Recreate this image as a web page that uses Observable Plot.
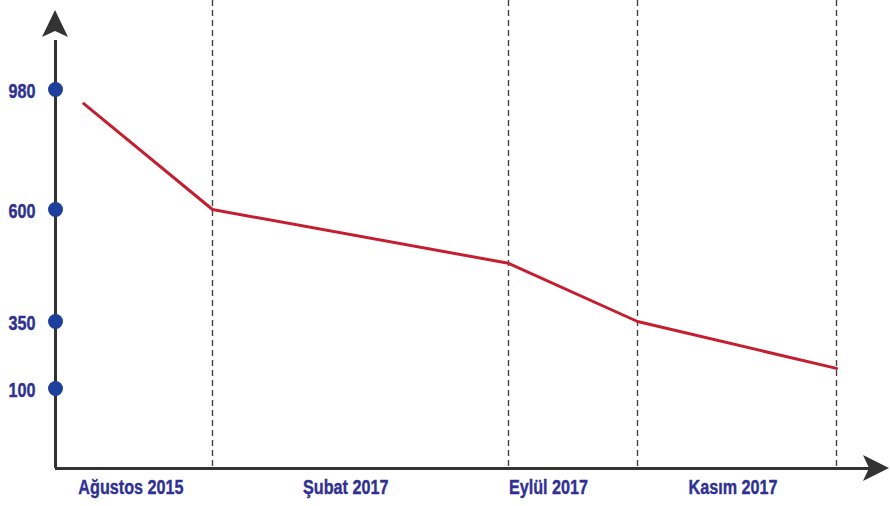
<!DOCTYPE html>
<html>
<head>
<meta charset="utf-8">
<script src="https://cdn.jsdelivr.net/npm/d3@7"></script>
<script src="https://cdn.jsdelivr.net/npm/@observablehq/plot@0.6"></script>
<style>
  html, body { margin: 0; padding: 0; background: #fff; }
  #chart svg { display: block; }
</style>
</head>
<body>
<div id="chart"></div>
<script>
// Categories (period labels) and their label positions along the x index
const periods = ["Ağustos 2015", "Şubat 2017", "Eylül 2017", "Kasım 2017"];
const periodLabelX = [0.48, 1.45, 2.31, 3.48];
// Dashed dividers on the x index
const dividers = [1, 2, 3, 4];
// Line series
const lineX = [0.18, 1, 2, 3, 4];
const lineValues = [935, 600, 480, 350, 175];
// Y tick labels
const yTicks = [980, 600, 350, 100];

const W = 890, H = 506;
const font = "'Liberation Sans', Arial, 'Helvetica', sans-serif";
const navy = "#2e3192";

const lineData = lineX.map((x, i) => ({x, v: lineValues[i]}));
const labelData = periods.map((p, i) => ({p, x: periodLabelX[i]}));

const chart = Plot.plot({
  width: W,
  height: H,
  marginTop: 0,
  marginBottom: 38,
  marginLeft: 55,
  marginRight: 15,
  x: {type: "linear", domain: [0, 1, 2, 3, 4], range: [55, 212, 508, 637, 836], axis: null},
  y: {type: "linear", domain: [0, 100, 350, 600, 980, 1200], range: [468, 388, 321, 209, 89, 12], axis: null},
  style: {fontFamily: font, background: "#fff"},
  marks: [
    Plot.ruleX(dividers, {x: d => d, stroke: "#444", strokeWidth: 1.4, strokeDasharray: "6,4"}),
    Plot.ruleY([0], {stroke: "#333", strokeWidth: 3}),
    Plot.ruleX([0], {y1: 0, y2: 1120, stroke: "#333", strokeWidth: 3}),
    Plot.line(lineData, {x: "x", y: "v", stroke: "#c41f30", strokeWidth: 3}),
    Plot.dot(yTicks, {x: 0, y: d => d, r: 7.5, fill: "#1d409d", stroke: "none"}),
    Plot.text(yTicks, {x: 0, y: d => d, text: d => String(d), dx: -20, dy: 1.5, textAnchor: "end",
      fill: navy, stroke: navy, strokeWidth: 0.4, fontSize: 21, fontWeight: "bold", fontFamily: font}),
    Plot.text(labelData, {x: "x", text: "p", frameAnchor: "bottom", dy: 25,
      fill: navy, stroke: navy, strokeWidth: 0.4, fontSize: 21, fontWeight: "bold", fontFamily: font})
  ]
});

document.getElementById("chart").appendChild(chart);

const svg = d3.select(chart);
const NS = "http://www.w3.org/2000/svg";

// Condense the label glyphs horizontally (narrow bold face look), about each label's anchor
svg.selectAll("g[aria-label='text'] text").each(function () {
  const t = this;
  const g = document.createElementNS(NS, "g");
  t.parentNode.insertBefore(g, t);
  g.appendChild(t);
  const bb = g.getBBox();
  const anchor = getComputedStyle(t).textAnchor;
  const ax = anchor === "end" ? bb.x + bb.width : anchor === "middle" ? bb.x + bb.width / 2 : bb.x;
  g.setAttribute("transform", `translate(${ax},0) scale(0.77,1) translate(${-ax},0)`);
});

// Arrowheads on the axes, positioned with the plot's own scales
const sx = chart.scale("x"), sy = chart.scale("y");
const ox = sx.apply(0), oy = sy.apply(0);
const topY = sy.apply(1200);
svg.append("path")
  .attr("d", `M${ox},${topY - 2} L${ox - 13},${topY + 25} L${ox},${topY + 19} L${ox + 13},${topY + 25} Z`)
  .attr("fill", "#333");
const rightX = W - 1;
svg.append("path")
  .attr("d", `M${rightX},${oy} L${rightX - 26},${oy - 13} L${rightX - 20},${oy} L${rightX - 26},${oy + 13} Z`)
  .attr("fill", "#333");
</script>
</body>
</html>
